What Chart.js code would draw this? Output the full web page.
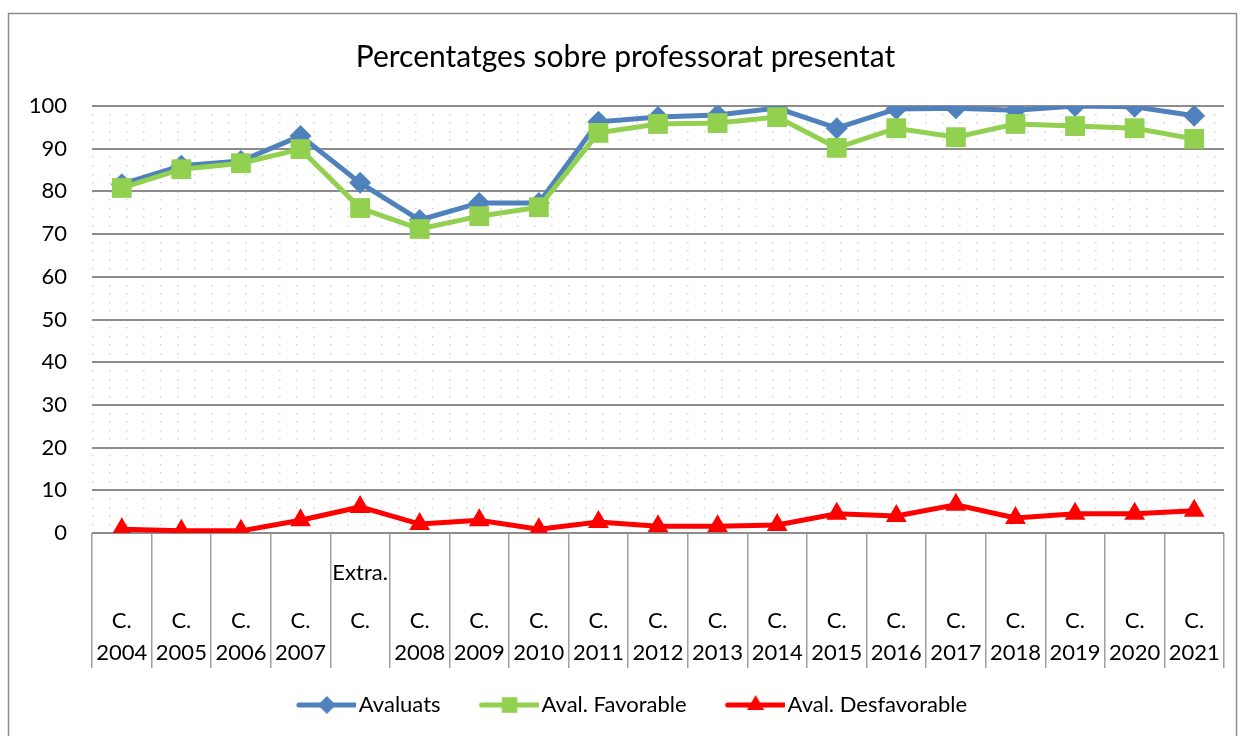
<!DOCTYPE html>
<html>
<head>
<meta charset="utf-8">
<script src="https://cdn.jsdelivr.net/npm/chart.js@4.4.1/dist/chart.umd.min.js"></script>
<style>
  html, body { margin: 0; padding: 0; background: #fff; }
  #wrap { width: 1241px; height: 736px; position: relative; }
</style>
</head>
<body>
<div id="wrap"><canvas id="chart"></canvas></div>
<script>
// Data
const titleText = 'Percentatges sobre professorat presentat';

// each category label is split into lines (blank lines keep the Excel-like vertical layout)
const categoryLabels = [
  ['', '', '', 'C.', '', '2004'],
  ['', '', '', 'C.', '', '2005'],
  ['', '', '', 'C.', '', '2006'],
  ['', '', '', 'C.', '', '2007'],
  ['Extra.', '', '', 'C.', '', ''],
  ['', '', '', 'C.', '', '2008'],
  ['', '', '', 'C.', '', '2009'],
  ['', '', '', 'C.', '', '2010'],
  ['', '', '', 'C.', '', '2011'],
  ['', '', '', 'C.', '', '2012'],
  ['', '', '', 'C.', '', '2013'],
  ['', '', '', 'C.', '', '2014'],
  ['', '', '', 'C.', '', '2015'],
  ['', '', '', 'C.', '', '2016'],
  ['', '', '', 'C.', '', '2017'],
  ['', '', '', 'C.', '', '2018'],
  ['', '', '', 'C.', '', '2019'],
  ['', '', '', 'C.', '', '2020'],
  ['', '', '', 'C.', '', '2021']
];

const avaluats = [81.7, 86.0, 87.1, 93.0, 82.0, 73.3, 77.3, 77.3, 96.3, 97.4, 97.9, 99.5, 94.8, 99.3, 99.5, 99.0, 100, 99.8, 97.7];
const favorable = [80.8, 85.2, 86.6, 89.9, 76.1, 71.2, 74.2, 76.3, 93.7, 95.8, 96.0, 97.4, 90.2, 94.8, 92.7, 95.8, 95.3, 94.8, 92.3];
const desfavorable = [0.9, 0.5, 0.5, 3.0, 6.1, 2.1, 3.0, 0.9, 2.6, 1.6, 1.6, 1.9, 4.5, 4.0, 6.6, 3.5, 4.5, 4.5, 5.2];

const yMin = 0;
const yMax = 100;
const yStep = 10;

const FONT = 'Lato, "Open Sans", sans-serif';

// legend icon: short line with the marker in the middle
function legendIcon(color, style, radius) {
  const c = document.createElement('canvas');
  c.width = 80; c.height = 24;
  const ctx = c.getContext('2d');
  ctx.strokeStyle = color;
  ctx.lineWidth = 5;
  ctx.lineCap = 'round';
  ctx.beginPath();
  ctx.moveTo(23, 12);
  ctx.lineTo(79, 12);
  ctx.stroke();
  ctx.fillStyle = color;
  Chart.helpers.drawPoint(ctx, { pointStyle: style, radius: radius, borderWidth: 0, rotation: 0 }, 51, 12);
  return c;
}

const frame = {
  id: 'frame',
  beforeDraw(chart) {
    const ctx = chart.ctx;
    ctx.save();
    ctx.fillStyle = '#fff';
    ctx.fillRect(0, 0, chart.width, chart.height);
    ctx.strokeStyle = '#8c8c8c';
    ctx.lineWidth = 1.5;
    ctx.strokeRect(8.5, 13.5, 1228, 740);
    ctx.restore();
  }
};

const series = [
  { label: 'Avaluats', data: avaluats, color: '#4f81bd', style: 'rectRot', radius: 11, legendRadius: 9, order: 3 },
  { label: 'Aval. Favorable', data: favorable, color: '#92d050', style: 'rect', radius: 14, legendRadius: 11, order: 2 },
  { label: 'Aval. Desfavorable', data: desfavorable, color: '#ff0000', style: 'triangle', radius: 12, legendRadius: 10, order: 1 }
];

new Chart(document.getElementById('chart'), {
  type: 'line',
  data: {
    labels: categoryLabels,
    datasets: series.map(s => ({
      label: s.label,
      data: s.data,
      borderColor: s.color,
      backgroundColor: s.color,
      borderWidth: 5,
      pointStyle: s.style,
      pointRadius: s.radius,
      pointBorderWidth: 0,
      pointBackgroundColor: s.color,
      tension: 0,
      fill: false,
      order: s.order
    }))
  },
  plugins: [frame],
  options: {
    responsive: true,
    maintainAspectRatio: false,
    animation: false,
    layout: { padding: { top: 39, left: 27, right: 17, bottom: 10 } },
    plugins: {
      title: {
        display: true,
        text: titleText,
        color: '#000',
        font: { family: FONT, size: 30, weight: 'normal' },
        padding: { top: 0, bottom: 31 }
      },
      legend: {
        position: 'bottom',
        labels: {
          color: '#000',
          font: { family: FONT, size: 22 },
          usePointStyle: true,
          pointStyleWidth: 64,
          padding: 26,
          generateLabels(chart) {
            return series.map((s, i) => ({
              text: s.label,
              fillStyle: s.color,
              strokeStyle: s.color,
              lineWidth: 0,
              pointStyle: legendIcon(s.color, s.style, s.legendRadius),
              datasetIndex: i,
              hidden: false
            }));
          }
        }
      },
      tooltip: { enabled: false }
    },
    scales: {
      x: {
        type: 'category',
        offset: true,
        grid: {
          display: true,
          offset: true,
          drawOnChartArea: false,
          drawTicks: true,
          tickLength: 135,
          color: '#a0a0a0',
          lineWidth: 1.5
        },
        border: { display: false },
        ticks: {
          color: '#000',
          font: { family: FONT, size: 22, lineHeight: '16px' },
          padding: -103,
          maxRotation: 0,
          autoSkip: false
        },
        afterFit(scale) { scale.height = 135; }
      },
      yMinor: {
        position: 'left',
        min: yMin,
        max: yMax,
        ticks: { display: false, stepSize: 2 },
        grid: { color: '#d4d4d4', lineWidth: 1.5, drawTicks: false },
        border: { display: false, dash: [1.5, 15.5] },
        afterFit(scale) { scale.width = 0; }
      },
      y: {
        position: 'left',
        min: yMin,
        max: yMax,
        ticks: {
          stepSize: yStep,
          color: '#000',
          font: { family: FONT, size: 22 },
          padding: 25
        },
        grid: { color: '#8c8c8c', lineWidth: 2, drawTicks: false },
        border: { display: false },
        afterFit(scale) { scale.width = 65; }
      }
    }
  }
});
</script>
</body>
</html>
